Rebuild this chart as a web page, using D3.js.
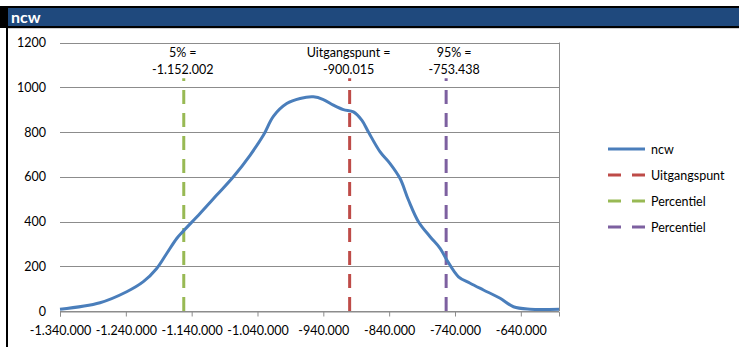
<!DOCTYPE html>
<html>
<head>
<meta charset="utf-8">
<script src="https://cdn.jsdelivr.net/npm/d3@7"></script>
<style>
  body { margin: 0; background: #fff; }
  text { font-family: Lato, "Open Sans", sans-serif; fill: #000; }
</style>
</head>
<body>
<div id="canvas"></div>
<script>
"use strict"

/* Data */
let ncwValues = [-1340000, -1279200, -1238700, -1213400, -1193100, -1177900, -1162700, -1152700,
    -1127300, -1101900, -1076600, -1051300, -1031100, -1015900, -995600, -975300, -955100,
    -939900, -924700, -909500, -894300, -881600, -871500, -853700, -838600, -823400, -810700,
    -795500, -777800, -762600, -752400, -734700, -717000, -696800, -671400, -651200, -625800, -582000];
let ncwCounts = [8, 37, 86, 131, 190, 257, 324, 357,
    436, 518, 600, 696, 785, 870, 927, 950, 957,
    945, 920, 900, 890, 853, 800, 711, 659, 592, 496,
    399, 332, 280, 228, 153, 124, 94, 57, 19, 8, 8];

let markerNames = ["Uitgangspunt", "Percentiel", "Percentiel"];
let markerValues = [-900015, -1152002, -753438];
let markerTop = 1040;
let markerLabels = [["Uitgangspunt =", "-900.015"], ["5% =", "-1.152.002"], ["95% =", "-753.438"]];

let xTicks = [-1340000, -1240000, -1140000, -1040000, -940000, -840000, -740000, -640000];
let yTicks = [0, 200, 400, 600, 800, 1000, 1200];

/* Drawing config */
let svgWidth = 739;
let svgHeight = 347;
let plot = { left: 60, right: 559, top: 42.5, bottom: 311 };
let markerColors = ["#BE4B48", "#98B954", "#7D60A0"];
let lineBlue = "#4A7EBB";

let svg = d3.select("#canvas")
    .append("svg")
    .attr("width", svgWidth)
    .attr("height", svgHeight);

/* title bar */
svg.append("rect")
    .attr("x", 0).attr("y", 6)
    .attr("width", svgWidth).attr("height", 22)
    .attr("fill", "#000");
svg.append("rect")
    .attr("x", 8).attr("y", 8)
    .attr("width", svgWidth - 8).attr("height", 18)
    .attr("fill", "#1F497D");
svg.append("line")
    .attr("x1", 8).attr("x2", svgWidth)
    .attr("y1", 28.5).attr("y2", 28.5)
    .attr("stroke", "#d0d0d0");
svg.append("rect")
    .attr("x", 6).attr("y", 6)
    .attr("width", 2).attr("height", svgHeight - 6)
    .attr("fill", "#000");
svg.append("text")
    .attr("x", 11)
    .attr("y", 23)
    .style("font-size", "16px")
    .style("font-weight", "bold")
    .style("fill", "#fff")
    .text("ncw");

/* Scales */
let xScale = d3.scaleLinear()
    .domain([-1340000, -582000])
    .range([plot.left, plot.right]);

let yScale = d3.scaleLinear()
    .domain([0, 1200])
    .range([plot.bottom, plot.top]);

let fmt = d => d3.format(",")(d).replace(/,/g, ".").replace("−", "-");

/* gridlines + y labels */
svg.selectAll("line.grid")
    .data(yTicks)
    .join("line")
    .attr("class", "grid")
    .attr("x1", plot.left)
    .attr("x2", plot.right)
    .attr("y1", d => Math.round(yScale(d)) + 0.5)
    .attr("y2", d => Math.round(yScale(d)) + 0.5)
    .attr("stroke", "#8c8c8c");

svg.selectAll("text.ylab")
    .data(yTicks)
    .join("text")
    .attr("class", "ylab")
    .attr("x", 46)
    .attr("y", d => yScale(d) + 4.5)
    .attr("text-anchor", "end")
    .style("font-size", "12.5px")
    .text(d => d);

/* right border of plot */
svg.append("line")
    .attr("x1", plot.right + 0.5).attr("x2", plot.right + 0.5)
    .attr("y1", plot.top).attr("y2", plot.bottom)
    .attr("stroke", "#8c8c8c");

/* x axis */
let xAxis = d3.axisBottom(xScale)
    .tickValues(xTicks)
    .tickSize(5)
    .tickFormat(fmt);

let xg = svg.append("g")
    .attr("transform", "translate(0," + (Math.round(plot.bottom) + 0.5) + ")")
    .call(xAxis);
xg.select(".domain").attr("stroke", "#8c8c8c");
xg.selectAll(".tick line").attr("stroke", "#8c8c8c");
xg.selectAll(".tick text")
    .attr("y", 15)
    .style("font-family", "Lato, sans-serif")
    .style("font-size", "12.5px")
    .attr("fill", "#000");

/* marker lines */
svg.selectAll("line.marker")
    .data(markerValues)
    .join("line")
    .attr("class", "marker")
    .attr("x1", d => xScale(d))
    .attr("x2", d => xScale(d))
    .attr("y1", yScale(0))
    .attr("y2", yScale(markerTop))
    .attr("stroke", (d, i) => markerColors[i])
    .attr("stroke-width", 3)
    .attr("stroke-dasharray", "14 9");

/* ncw curve */
let line = d3.line()
    .x(d => xScale(d[0]))
    .y(d => yScale(d[1]))
    .curve(d3.curveCatmullRom);

svg.append("path")
    .datum(ncwValues.map((v, i) => [v, ncwCounts[i]]))
    .attr("d", line)
    .attr("fill", "none")
    .attr("stroke", lineBlue)
    .attr("stroke-width", 3);

/* marker labels */
markerLabels.forEach((lab, i) => {
    lab.forEach((t, j) => {
        svg.append("text")
            .attr("x", xScale(markerValues[i]) + (i == 2 ? 8 : -1))
            .attr("y", 57 + j * 17)
            .attr("text-anchor", "middle")
            .style("font-size", "12.5px")
            .text(t);
    });
});

/* Legend */
let legendNames = ["ncw"].concat(markerNames);
let legendColors = [lineBlue].concat(markerColors);

let key = svg.append("g")
    .attr("transform", "translate(608,149)");

key.selectAll("line")
    .data(legendNames)
    .join("line")
    .attr("x1", 0)
    .attr("x2", 37)
    .attr("y1", (d, i) => i * 26)
    .attr("y2", (d, i) => i * 26)
    .attr("stroke", (d, i) => legendColors[i])
    .attr("stroke-width", 3)
    .attr("stroke-dasharray", (d, i) => i == 0 ? null : "13 11");

key.selectAll("text")
    .data(legendNames)
    .join("text")
    .attr("x", 43)
    .attr("y", (d, i) => i * 26 + 4.5)
    .style("font-size", "12.5px")
    .text(d => d);
</script>
</body>
</html>
